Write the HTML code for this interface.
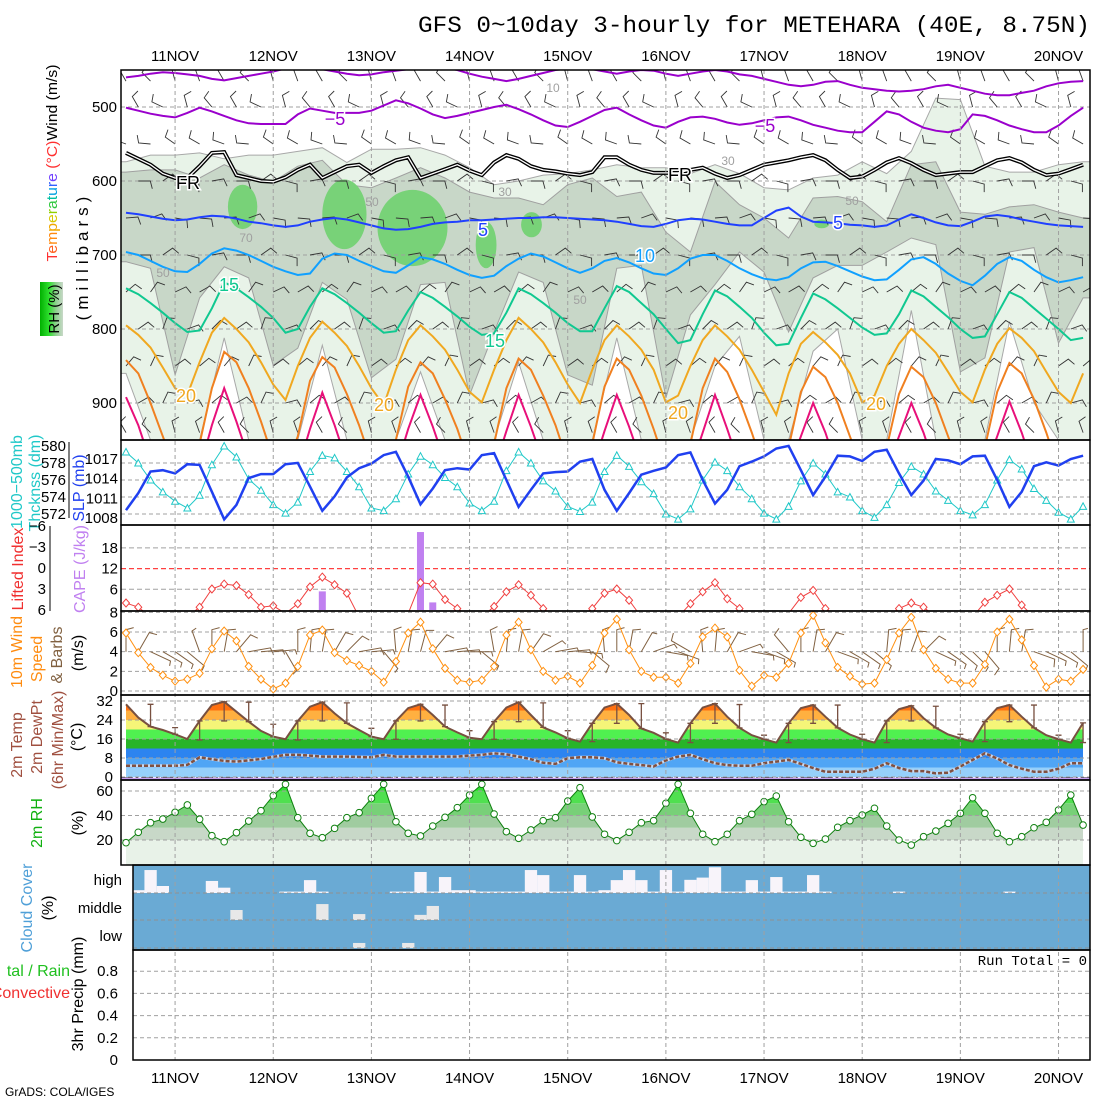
<!DOCTYPE html>
<html><head><meta charset="utf-8">
<style>
body{margin:0;background:#fff;width:1100px;height:1100px;overflow:hidden}
svg{display:block;font-family:"Liberation Sans",sans-serif}
.tk{font-size:15px;fill:#000}
</style></head>
<body>
<svg id="chart" width="1100" height="1100" viewBox="0 0 1100 1100">
<defs>
<clipPath id="c1"><rect x="121" y="70" width="969" height="370"/></clipPath>
<clipPath id="c2"><rect x="121" y="440" width="969" height="85"/></clipPath>
<clipPath id="c3"><rect x="121" y="525" width="969" height="86"/></clipPath>
<clipPath id="c4"><rect x="121" y="611" width="969" height="84"/></clipPath>
<clipPath id="c5"><rect x="121" y="695" width="969" height="85"/></clipPath>
<clipPath id="c6"><rect x="121" y="780" width="969" height="85"/></clipPath>
<clipPath id="c7"><rect x="133" y="865" width="957" height="85"/></clipPath>
<linearGradient id="rhg" x1="0" x2="1" y1="0" y2="0"><stop offset="0" stop-color="#00b000"/><stop offset="0.4" stop-color="#30e030"/><stop offset="0.7" stop-color="#90d090"/><stop offset="1" stop-color="#c8d8c8"/></linearGradient>
</defs>
<rect x="0" y="0" width="1100" height="1100" fill="#fff"/>
<text x="418" y="32" font-family="Liberation Mono, monospace" font-size="23" textLength="672" lengthAdjust="spacingAndGlyphs">GFS 0~10day 3-hourly for METEHARA (40E, 8.75N)</text>

<g id="leftlabels" font-size="15">
<text transform="translate(57,163) rotate(-90)" text-anchor="middle" textLength="197" lengthAdjust="spacingAndGlyphs"><tspan fill="#ff3030">T</tspan><tspan fill="#ff6020">e</tspan><tspan fill="#ff8a10">m</tspan><tspan fill="#f0a800">p</tspan><tspan fill="#d8c800">e</tspan><tspan fill="#90d000">r</tspan><tspan fill="#30c840">a</tspan><tspan fill="#00c0a0">t</tspan><tspan fill="#00a0e0">u</tspan><tspan fill="#3060ff">r</tspan><tspan fill="#7040ff">e</tspan><tspan fill="#ff3030"> (°C)</tspan><tspan fill="#000">Wind (m/s)</tspan></text>
<rect x="40" y="282" width="23" height="54" fill="url(#rhg)"/>
<text transform="translate(59,309) rotate(-90)" text-anchor="middle">RH (%)</text>
<text transform="translate(88,256) rotate(-90)" text-anchor="middle" font-size="17" letter-spacing="5">(millibars)</text>
<text transform="translate(22,482) rotate(-90)" text-anchor="middle" fill="#20c8c8" font-size="16">1000−500mb</text>
<text transform="translate(40,483) rotate(-90)" text-anchor="middle" fill="#20c8c8" font-size="16">Thcknss (dm)</text>
<text transform="translate(84,488) rotate(-90)" text-anchor="middle" fill="#2040f0" font-size="16">SLP (mb)</text>
<text transform="translate(23,569) rotate(-90)" text-anchor="middle" fill="#f03030" font-size="16">Lifted Index</text>
<text transform="translate(85,569) rotate(-90)" text-anchor="middle" fill="#c080f0" font-size="16">CAPE (J/kg)</text>
<text transform="translate(22,652) rotate(-90)" text-anchor="middle" fill="#ff8c10" font-size="16">10m Wind</text>
<text transform="translate(42,659) rotate(-90)" text-anchor="middle" fill="#ff8c10" font-size="16">Speed</text>
<text transform="translate(62,655) rotate(-90)" text-anchor="middle" fill="#806040" font-size="16">&amp; Barbs</text>
<text transform="translate(83,653) rotate(-90)" text-anchor="middle" font-size="16">(m/s)</text>
<text transform="translate(22,745) rotate(-90)" text-anchor="middle" fill="#a05040" font-size="16">2m Temp</text>
<text transform="translate(42,737) rotate(-90)" text-anchor="middle" fill="#a05040" font-size="16">2m DewPt</text>
<text transform="translate(63,740) rotate(-90)" text-anchor="middle" fill="#a05040" font-size="16">(6hr Min/Max)</text>
<text transform="translate(82,737) rotate(-90)" text-anchor="middle" font-size="16">(°C)</text>
<text transform="translate(42,823) rotate(-90)" text-anchor="middle" fill="#10b010" font-size="16">2m RH</text>
<text transform="translate(83,823) rotate(-90)" text-anchor="middle" font-size="16">(%)</text>
<text transform="translate(32,908) rotate(-90)" text-anchor="middle" fill="#50a0d8" font-size="16">Cloud Cover</text>
<text transform="translate(53,908) rotate(-90)" text-anchor="middle" font-size="16">(%)</text>
<text transform="translate(83,994) rotate(-90)" text-anchor="middle" font-size="16">3hr Precip (mm)</text>
<text x="70" y="976" text-anchor="end" fill="#20c020" font-size="16">tal / Rain</text>
<text x="70" y="998" text-anchor="end" fill="#f03030" font-size="16">Convective</text>
<text x="1087" y="965" text-anchor="end" font-family="Liberation Mono, monospace" font-size="14">Run Total = 0</text>
<text x="5" y="1096" font-size="12">GrADS: COLA/IGES</text>
</g>
<g id="plots"></g>
</svg>
<script>
// ---------- data (3-hourly from 10NOV 12Z, 79 steps) ----------
const days = ['11NOV','12NOV','13NOV','14NOV','15NOV','16NOV','17NOV','18NOV','19NOV','20NOV'];
const thickness = [579.3,578.0,576.0,574.6,573.5,572.7,574.2,577.8,580.0,578.7,
576.1,574.8,573.1,572.1,573.4,577.0,578.9,578.6,577.0,575.2,
572.7,572.4,573.8,576.7,578.8,577.8,576.3,575.2,573.3,572.4,
573.5,577.1,579.3,578.0,575.9,574.7,572.9,572.3,573.4,577.0,
578.9,577.6,575.8,574.4,572.0,571.4,572.6,576.0,578.1,577.1,
575.2,573.8,572.1,571.4,572.9,575.9,578.0,576.7,574.6,574.0,
572.4,571.6,573.1,575.7,577.6,576.7,574.7,573.6,572.4,571.9,
573.1,576.0,578.4,577.3,575.0,573.6,572.2,571.4,572.9];
const slp = [1009.2,1011.8,1015.1,1015.3,1014.8,1016.2,1016.1,1012.0,1007.8,1010.0,
1014.1,1014.7,1014.7,1016.2,1016.4,1012.8,1009.1,1011.3,1014.2,1015.6,
1016.3,1017.6,1018.1,1014.3,1010.1,1012.5,1015.3,1015.6,1015.4,1017.6,
1017.9,1013.8,1009.7,1012.3,1014.8,1015.0,1015.1,1016.6,1017.0,1012.3,
1009.1,1011.8,1014.6,1015.2,1015.7,1017.6,1018.0,1013.8,1010.2,1012.3,
1015.9,1016.6,1017.4,1018.6,1019.0,1015.3,1011.5,1014.3,1017.5,1017.4,
1016.7,1018.1,1018.4,1014.8,1011.5,1013.7,1017.0,1016.8,1016.2,1017.4,
1017.5,1013.8,1009.7,1012.0,1015.9,1016.5,1016.0,1017.0,1017.5];
const liftedIndex = [5.0,5.6,7,7,7,7,5.6,3.0,2.3,2.5,
3.8,5.6,5.4,6.5,5.1,2.7,1.3,2.4,3.6,7,
7,7,7,6.5,2.1,2.3,4.5,5.8,7,7,
5.5,3.4,2.4,3.9,5.8,7,7,7,5.8,3.6,
3.0,4.6,7,7,7,7,5.1,3.4,2.1,4.4,
5.8,7,7,7,6.5,4.2,3.2,5.8,7,7,
7,7,7,5.8,5.0,5.6,7,7,7,7,
4.9,3.9,3.0,5.3,7,7,7,7,7];
const cape = [0,0,0,0,0,0,0,0,0,0, 0,0,0,0,0,0,5.4,0,0,0, 0,0,0,0,22.6,2.2,0,0,0,0,
0,0,0,0,0,0,0,0,0,0, 0,0,0,0,0,0,0,0,0,0, 0,0,0,0,0,0,0,0,0,0, 0,0,0,0,0,0,0,0,0,0, 0,0,0,0,0,0,0,0,0];
const windSpeed = [5.9,3.9,2.4,1.6,1.0,1.2,1.8,4.3,6.1,5.1,
2.5,1.2,0.2,0.8,2.5,5.7,6.2,3.9,3.1,2.6,
2.0,0.9,3.0,5.9,7.0,4.3,2.3,1.1,0.9,1.1,
2.5,5.7,7.0,4.2,2.0,1.1,1.5,0.8,2.6,5.9,
7.3,4.2,2.0,1.4,1.4,0.8,2.8,5.5,6.4,5.5,
2.1,0.5,1.6,1.4,2.8,5.9,7.7,4.9,2.4,1.5,
0.7,0.8,3.2,5.9,7.5,4.2,2.3,1.2,0.8,0.8,
2.7,6.0,7.3,5.2,2.6,0.4,1.2,1.0,2.2];
const windDir = [0,30,115,120,125,130,340,0,10,40,
80,85,85,150,0,5,10,30,45,80,
85,140,355,10,15,40,80,85,90,130,
350,5,10,35,60,80,85,95,130,355,
0,10,30,70,100,110,300,355,5,30,
70,100,110,120,320,0,10,30,110,120,
125,130,5,10,20,45,115,125,130,135,
140,0,5,10,110,115,120,130,0];
const temp2m = [30.6,25.0,21.2,19.8,18.0,16.0,23.6,30.3,31.7,27.5,
23.3,19.4,17.0,15.9,23.6,29.6,31.5,26.8,22.6,19.8,
17.0,15.9,23.6,29.0,30.6,26.1,21.2,18.8,16.5,15.9,
23.3,29.2,31.5,26.1,20.9,18.8,16.3,14.9,22.6,29.2,
30.9,26.1,20.4,18.6,16.0,14.5,22.6,29.2,30.9,25.4,
20.7,17.6,15.9,14.5,22.6,29.0,30.3,25.4,20.7,17.9,
15.9,14.5,23.6,28.6,30.0,24.8,20.7,17.9,16.3,14.9,
23.3,29.0,30.3,25.4,20.7,17.6,15.9,14.5,22.8];
const dewpt2m = [4.7,4.7,4.7,4.7,4.7,5.1,8.3,7.5,6.8,6.5,
7.0,7.6,8.5,9.3,9.3,9.0,8.6,8.6,8.6,8.4,
8.3,9.3,8.6,8.6,8.6,8.6,8.6,8.6,9.0,9.3,
10.0,9.5,8.6,7.5,6.0,5.5,7.9,8.3,8.3,7.9,
6.2,5.5,5.0,4.4,7.0,8.6,9.3,7.5,5.8,5.0,
4.7,4.7,5.8,6.5,7.2,5.5,3.8,2.2,2.2,2.2,
2.2,3.5,5.8,3.8,2.5,2.5,1.5,1.8,4.4,7.2,
10.0,7.8,5.0,3.5,2.2,2.2,3.5,5.8,5.8];
const tMax6 = [null,30.6,20.8,23.6,31.7,31.5,22.2,23.6,31.5,31.2,20.5,23.6,30.6,30.3,19.5,23.3,31.5,31.2,19.5,22.6,
30.9,30.9,18.6,22.6,30.9,30.5,17.6,22.6,30.3,30.3,18.0,23.6,30.0,29.8,18.0,23.3,30.3,30.3,17.6,22.8];
const tMin6 = [null,21.2,18.0,15.6,23.6,23.3,16.9,15.6,23.6,22.6,17.0,15.9,23.6,21.2,16.5,15.9,23.3,20.9,16.3,14.9,
22.6,20.4,16.0,14.5,22.6,20.7,15.9,14.5,22.6,20.7,15.9,14.5,23.6,20.7,16.3,14.9,23.3,20.7,15.9,14.5];
const rh2m = [17.8,26.3,34.1,37.1,42.6,48.6,36.9,23.5,18.6,26.0,
35.5,43.9,56.2,65.5,38.2,25.5,21.9,29.5,38.2,42.3,
54.0,65.5,34.9,25.5,23.3,31.4,38.5,46.4,56.7,65.5,
41.2,26.8,21.4,28.2,35.8,38.2,51.8,62.7,38.8,24.7,
19.5,26.3,34.1,35.8,50.0,65.5,41.8,24.7,18.6,24.7,
35.8,41.0,51.3,55.9,34.9,22.2,17.3,20.8,30.4,35.8,
40.4,45.9,31.4,20.0,15.9,22.7,27.3,33.6,41.8,54.5,
41.8,25.5,18.6,22.7,30.0,34.4,44.5,56.7,32.2];
const cloudHigh = [0,10,82,25,0,0,0,43,19,0, 0,0,0,5,5,46,5,0,0,0, 0,0,5,5,75,5,57,10,10,5,
5,5,5,82,64,5,5,64,5,10, 46,82,46,5,82,5,47,55,92,5, 5,46,5,57,5,5,64,5,0,0,
0,0,0,5,0,0,0,0,0,0, 0,0,5,0,0,0,0,0,0];
const cloudMid = [0,0,0,0,0,0,0,0,0,37, 0,0,0,0,0,0,59,0,0,22, 0,0,0,0,19,52,0,0,0,0,
0,0,0,0,0,0,0,0,0,0, 0,0,0,0,0,0,0,0,0,0, 0,0,0,0,0,0,0,0,0,0, 0,0,0,0,0,0,0,0,0,0, 0,0,0,0,0,0,0,0,0];
const cloudLow = [0,0,0,0,0,0,0,0,0,0, 0,0,0,0,0,0,0,0,0,18, 0,0,0,18,0,0,0,0,0,0,
0,0,0,0,0,0,0,0,0,0, 0,0,0,0,0,0,0,0,0,0, 0,0,0,0,0,0,0,0,0,0, 0,0,0,0,0,0,0,0,0,0, 0,0,0,0,0,0,0,0,0];
const isoM10 = [460,458,455,453,454,456,458,462,464,461, 458,455,452,448,446,447,449,452,455,457,
456,453,451,449,448,446,447,450,455,459, 462,465,462,458,454,450,448,447,449,452,
455,452,450,451,455,458,455,452,450,452, 456,458,462,466,470,472,470,466,465,470,
474,476,478,479,478,476,472,470,474,478, 482,484,484,481,478,472,468,466,465];
const isoM5 = [501,505,509,512,514,508,501,506,512,518, 522,523,523,523,510,502,505,508,508,508,
505,498,491,495,502,510,515,512,508,504, 500,497,503,510,518,525,527,520,512,504,
501,510,518,525,528,520,514,513,516,521, 524,522,518,514,513,518,524,528,532,534,
534,520,506,510,520,528,532,534,530,510, 512,518,525,530,534,534,525,512,501];
const iso0 = [562,570,578,590,596,596,580,562,561,592, 596,600,601,595,585,578,596,588,580,578,
589,580,572,568,596,590,584,578,586,592, 575,565,570,580,585,587,590,592,588,568,
568,578,585,589,589,589,585,582,590,596, 592,585,578,575,572,568,565,572,585,596,
594,585,575,569,576,585,592,590,588,588, 580,572,569,575,585,592,590,584,578];
const iso5 = [643,645,648,651,653,652,649,647,648,651, 655,657,660,662,660,655,652,650,652,656,
660,664,666,665,662,658,656,655,653,653, 652,651,650,650,649,649,650,651,652,653,
655,658,661,662,658,653,651,652,655,658, 660,660,650,640,636,648,655,656,657,659,
660,662,660,652,645,650,656,660,661,655, 648,646,648,652,655,658,660,661,662];
const iso10 = [696,700,708,716,722,723,712,698,691,694, 700,708,716,722,727,725,705,698,700,708,
715,722,724,714,703,706,712,720,727,731, 728,715,705,698,702,710,718,724,718,708,
704,710,718,725,727,718,705,700,700,708, 718,726,732,734,730,718,710,709,715,722,
729,734,733,720,706,703,712,725,735,741, 728,712,703,708,720,730,737,734,730];
const iso15 = [745,753,765,778,792,804,802,772, 737,745,757,770,785,805,800,770,
745,753,765,778,792,805,803,775, 750,758,770,783,797,808,806,778,
745,753,765,778,792,803,803,772, 742,750,765,780,800,819,815,780,
748,756,770,785,805,822,820,785, 752,760,772,785,798,808,806,780,
748,756,770,784,800,812,810,780, 750,758,772,786,800,815,812];
const iso20 = [795,808,825,852,880,889,845,805, 785,800,818,845,875,896,850,812,
790,805,823,850,880,903,855,815, 795,810,828,855,885,899,855,815,
785,800,818,845,875,900,855,815, 795,810,828,855,899,890,850,815,
795,810,828,855,885,916,860,820, 804,818,835,860,899,890,850,820,
800,815,832,858,885,899,855,820, 799,812,830,858,885,900,860];
const iso25 = [842,860,900,945,990,990,955,880, 831,845,880,925,975,990,945,870,
838,852,888,930,980,990,950,878, 845,860,895,935,985,990,955,880,
840,855,890,930,980,990,955,878, 840,855,890,935,985,990,955,880,
840,858,895,940,990,990,960,885, 851,865,900,945,990,990,960,888,
851,865,900,945,990,990,960,885, 846,860,895,940,990,990,960];
const iso30 = [892,930,980,990,990,990,990,930, 880,925,975,990,990,990,990,935,
886,930,980,990,990,990,990,935, 889,932,980,990,990,990,990,938,
889,932,980,990,990,990,990,938, 889,932,980,990,990,990,990,940,
889,935,985,990,990,990,990,945, 900,940,990,990,990,990,990,945,
900,940,990,990,990,990,990,945, 898,940,990,990,990,990,990];
const rhMoistTop = [574,565,565,562,570,565,565,560,555,575,557,557,555,565,582,605,600,592,590,585,
578,582,582,590,578,590,609,612,596,592,574,590,560,488,490,580,588,588,578,574];
const rhMoistBot = [860,950,950,950,812,950,950,950,822,950,950,950,858,950,950,950,845,950,950,950,
812,950,950,950,850,810,950,950,830,800,950,950,775,950,950,950,790,900,950,950];
const rhWetTop = [588,585,585,596,578,592,601,580,572,605,609,596,582,596,615,623,623,632,605,596,
621,615,669,696,601,632,650,677,623,621,628,655,578,574,642,645,635,632,642,650];
const rhWetBot = [709,718,862,758,716,731,849,826,737,760,866,841,740,737,889,804,723,737,862,876,
718,714,893,781,740,696,723,804,731,714,714,696,677,686,858,839,696,690,819,758];
const satStart = [8.3,16.0,20.5,28.5,32.2,56.1];
const satEnd = [10.7,19.6,26.2,30.2,33.9,57.3];
const satTop = [605,598,612,655,642,652];
const satBot = [665,692,715,718,676,664];
const barbLevels = [465,500,550,600,650,700,750,800,850,900,940];
const barbLevelDir = [330,320,290,80,85,80,50,45,40,50,330];
const barbPhaseOff = [0,10,-15,-25,15,25,10,0];
const pTicks = [500,600,700,800,900];
const thkTicks = [572,574,576,578,580];
const slpTicks = [1008,1011,1014,1017];
const liTicks = [-6,-3,0,3,6];
const capeTicks = [6,12,18];
const wsTicks = [0,2,4,6,8];
const tTicks = [0,8,16,24,32];
const rhTicks = [20,40,60];
const prTicks = [0,0.2,0.4,0.6,0.8];

// ---------- drawing ----------
const NS='http://www.w3.org/2000/svg';
const root=document.getElementById('plots');
function mk(tag,attrs,parent){const e=document.createElementNS(NS,tag);for(const k in attrs)e.setAttribute(k,attrs[k]);(parent||root).appendChild(e);return e;}
const X=i=>126+i*12.27;
const yP=p=>70+(p-450)*0.74;
const yThk=v=>446+(580-v)*8.5;
const ySlp=v=>459+(1017-v)*6.56;
const yLI=v=>568+v*7;
const yCape=v=>610-v*3.45;
const yWs=v=>691-v*9.83;
const yT=v=>777-v*2.375;
const yRH=v=>864.5-v*1.225;
const yPr=v=>1060-v*111;
const pts=(arr,fy,step)=>arr.map((v,k)=>X(k*(step||1)).toFixed(1)+','+fy(v).toFixed(1)).join(' ');
const GRID='#a0a0a0';

function barb(g,x,y,dir,len,col,full,w){
  const r=dir*Math.PI/180, dx=Math.sin(r)*len, dy=-Math.cos(r)*len;
  const ex=x+dx, ey=y+dy;
  const t=(dir+75)*Math.PI/180, tl=full?8:5;
  return mk('path',{d:`M${x.toFixed(1)},${y.toFixed(1)}L${ex.toFixed(1)},${ey.toFixed(1)}L${(ex+Math.sin(t)*tl).toFixed(1)},${(ey-Math.cos(t)*tl).toFixed(1)}`,fill:'none',stroke:col,'stroke-width':w||1},g);
}

// ===== Panel 1 =====
const g1=mk('g',{'clip-path':'url(#c1)'});


function regionPoly(top,bot){
  const n=top.length; let a=[];
  a.push('121,'+yP(top[0]).toFixed(1));
  for(let j=0;j<n;j++)a.push(X(2*j).toFixed(1)+','+yP(top[j]).toFixed(1));
  a.push('1090,'+yP(top[n-1]).toFixed(1));
  a.push('1090,'+yP(bot[n-1]).toFixed(1));
  for(let j=n-1;j>=0;j--)a.push(X(2*j).toFixed(1)+','+yP(bot[j]).toFixed(1));
  a.push('121,'+yP(bot[0]).toFixed(1));
  return a.join(' ');
}
const moist=mk('polygon',{points:regionPoly(rhMoistTop,rhMoistBot),fill:'#e8f3e8',stroke:'#a8a8a8','stroke-width':1},g1);


const wet=mk('polygon',{points:regionPoly(rhWetTop,rhWetBot),fill:'#c8d7c8',stroke:'#a0a0a0','stroke-width':1},g1);


for(let k=0;k<satStart.length;k++){
  const x0=X(satStart[k]),x1=X(satEnd[k]),y0=yP(satTop[k]),y1=yP(satBot[k]);
  const e=mk('ellipse',{cx:((x0+x1)/2).toFixed(1),cy:((y0+y1)/2).toFixed(1),rx:((x1-x0)/2).toFixed(1),ry:((y1-y0)/2).toFixed(1),fill:'#78d278'},g1);
  
  
}
for(const p of pTicks){
  const l=mk('line',{x1:121,x2:1090,y1:yP(p),y2:yP(p),stroke:GRID,'stroke-dasharray':'4,3'},g1);
  
  
}
const gb=mk('g',{},g1);


for(let i=0;i<79;i++){
  for(let L=0;L<barbLevels.length;L++){
    if((i+L)%2)continue;
    const b=barb(gb,X(i),yP(barbLevels[L]),barbLevelDir[L]+barbPhaseOff[i%8],12,'#333',true,0.9);
    
    
  }
}
const isoDefs=[[isoM10,'#9a00cc',2,'isotherm-minus10'],[isoM5,'#9a00cc',2,'isotherm-minus5'],[iso5,'#2040ff',2,'isotherm-5'],[iso10,'#10a0ff',2,'isotherm-10'],[iso15,'#10c890',2,'isotherm-15'],[iso20,'#f0a820',2,'isotherm-20'],[iso25,'#f08020',2,'isotherm-25'],[iso30,'#e8107a',2,'isotherm-30']];
for(const d of isoDefs){
  const l=mk('polyline',{points:pts(d[0],yP),fill:'none',stroke:d[1],'stroke-width':d[2]},g1);
  
  
}
const fr1=mk('polyline',{points:pts(iso0,yP),fill:'none',stroke:'#000','stroke-width':4},g1);


const fr2=mk('polyline',{points:pts(iso0,yP),fill:'none',stroke:'#fff','stroke-width':1.3},g1);


const isoLabels=[['−5',335,125,'#9a00cc'],['−5',765,132,'#9a00cc'],['FR',188,189,'#000'],['FR',680,181,'#000'],['5',483,236,'#2040ff'],['5',838,229,'#2040ff'],['10',645,262,'#10a0ff'],['15',229,291,'#10c890'],['15',495,347,'#10c890'],['20',186,402,'#f0a820'],['20',384,411,'#f0a820'],['20',678,419,'#f0a820'],['20',876,410,'#f0a820'],
['10',553,92,'#a0a0a0'],['30',505,196,'#a0a0a0'],['50',163,277,'#a0a0a0'],['50',372,206,'#a0a0a0'],['70',246,242,'#a0a0a0'],['30',728,165,'#a0a0a0'],['50',852,205,'#a0a0a0'],['50',580,304,'#a0a0a0']];
for(const t of isoLabels){
  const gray=t[3]==='#a0a0a0';
  const e=mk('text',{x:t[1],y:t[2],fill:t[3],'font-size':gray?12:18,'text-anchor':'middle',stroke:gray?'none':'#fff','stroke-width':gray?0:3,'paint-order':'stroke'},g1);
  e.textContent=t[0];
  
  
}

// ===== Panel 2 =====
const g2=mk('g',{'clip-path':'url(#c2)'});


for(const v of thkTicks){
  if(v===580)continue;
  const l=mk('line',{x1:121,x2:1090,y1:yThk(v),y2:yThk(v),stroke:GRID,'stroke-dasharray':'4,3'},g2);
  
  
}
const thl=mk('polyline',{points:pts(thickness,yThk),fill:'none',stroke:'#20c8c8','stroke-width':1},g2);


thickness.forEach((v,i)=>{
  const x=X(i),y=yThk(v);
  const m=mk('path',{d:`M${x-3.5},${y+3}L${x+3.5},${y+3}L${x},${y-3.5}Z`,fill:'#fff',stroke:'#20c8c8','stroke-width':1},g2);
  
  
});
const sl=mk('polyline',{points:pts(slp,ySlp),fill:'none',stroke:'#2040f0','stroke-width':2.5},g2);



// ===== Panel 3 =====
const g3=mk('g',{'clip-path':'url(#c3)'});


for(const v of capeTicks){
  const l=mk('line',{x1:121,x2:1090,y1:yCape(v),y2:yCape(v),stroke:v===12?'#ff4040':GRID,'stroke-dasharray':'5,3','stroke-width':v===12?1.3:1},g3);
  
  
}
cape.forEach((v,i)=>{
  if(v<=0)return;
  const r=mk('rect',{x:X(i)-3.5,y:yCape(v),width:7,height:610-yCape(v),fill:'#c080f0'},g3);
  
  
});
const lil=mk('polyline',{points:pts(liftedIndex,yLI),fill:'none',stroke:'#f04040','stroke-width':1},g3);


liftedIndex.forEach((v,i)=>{
  if(v>6.2)return;
  const x=X(i),y=yLI(v);
  const m=mk('path',{d:`M${x},${y-4}L${x+3.5},${y}L${x},${y+4}L${x-3.5},${y}Z`,fill:'#fff',stroke:'#f04040','stroke-width':1},g3);
  
  
});

// ===== Panel 4 =====
const g4=mk('g',{'clip-path':'url(#c4)'});


for(const v of wsTicks){
  const l=mk('line',{x1:121,x2:1090,y1:yWs(v),y2:yWs(v),stroke:GRID,'stroke-dasharray':'4,3'},g4);
  
  
}
windDir.forEach((d,i)=>{
  const b=barb(g4,X(i),yWs(4),d,22,'#806040',windSpeed[i]>=2.5);
  
  
});
const wsl=mk('polyline',{points:pts(windSpeed,yWs),fill:'none',stroke:'#ff9010','stroke-width':1},g4);


windSpeed.forEach((v,i)=>{
  const x=X(i),y=yWs(v);
  const m=mk('path',{d:`M${x},${y-4}L${x+3.5},${y}L${x},${y+4}L${x-3.5},${y}Z`,fill:'#fff',stroke:'#ff9010','stroke-width':1},g4);
  
  
});

// ===== Panel 5 =====
const g5=mk('g',{'clip-path':'url(#c5)'});


const defs=document.querySelector('defs');
const cpT=mk('clipPath',{id:'tempArea'},defs);
mk('polygon',{points:pts(temp2m,yT)+' '+X(78)+','+yT(0)+' '+X(0)+','+yT(0)},cpT);
const bandLo=[0,4,8,12,16,20,24,28,32];
const bandCol=['#96d0fa','#50a5f5','#2c84f0','#28b428','#50f050','#f5f578','#ffb040','#ff7010','#e04000'];
const gBands=mk('g',{'clip-path':'url(#tempArea)'},g5);


bandLo.forEach((lo,k)=>{
  const r=mk('rect',{x:X(0),y:yT(lo+4),width:X(78)-X(0),height:yT(lo)-yT(lo+4),fill:bandCol[k]},gBands);
  
  
});
for(const v of tTicks){
  const l=mk('line',{x1:121,x2:1090,y1:yT(v),y2:yT(v),stroke:GRID,'stroke-dasharray':'4,3'},g5);
  
  
}
const zl=mk('line',{x1:121,x2:1090,y1:yT(0)+1,y2:yT(0)+1,stroke:'#000','stroke-dasharray':'12,3,2,3','stroke-width':1.2},g5);


const pl=mk('line',{x1:121,x2:1090,y1:779,y2:779,stroke:'#c8a0f0','stroke-width':2.5},g5);


const dw1=mk('polyline',{points:pts(dewpt2m,yT),fill:'none',stroke:'#c8d8f0','stroke-width':3},g5);


const dw2=mk('polyline',{points:pts(dewpt2m,yT),fill:'none',stroke:'#805040','stroke-width':2.5,'stroke-dasharray':'4,2'},g5);


const tl=mk('polyline',{points:pts(temp2m,yT),fill:'none',stroke:'#785040','stroke-width':2},g5);


tMax6.forEach((mx,j)=>{
  if(mx===null)return;
  const x=X(2*j),y0=yT(mx),y1=yT(tMin6[j]);
  const e=mk('path',{d:`M${x},${y0}L${x},${y1}M${x-3},${y0}L${x+3},${y0}M${x-3},${y1}L${x+3},${y1}`,stroke:'#785040','stroke-width':1.3,fill:'none'},g5);
  
  
});

// ===== Panel 6 =====
const g6=mk('g',{'clip-path':'url(#c6)'});


const cpR=mk('clipPath',{id:'rhArea'},defs);
mk('polygon',{points:pts(rh2m,yRH)+' '+X(78)+',865 '+X(0)+',865'},cpR);
const rhLo=[0,20,30,40,50,60];
const rhHi=[20,30,40,50,60,100];
const rhCol=['#e8f2e8','#c8d8c8','#a0cca0','#78d078','#50e050','#30e030'];
const gRb=mk('g',{'clip-path':'url(#rhArea)'},g6);


rhLo.forEach((lo,k)=>{
  const r=mk('rect',{x:X(0),y:yRH(Math.min(rhHi[k],75)),width:X(78)-X(0),height:yRH(lo)-yRH(Math.min(rhHi[k],75)),fill:rhCol[k]},gRb);
  
  
});
for(const v of rhTicks){
  const l=mk('line',{x1:121,x2:1090,y1:yRH(v),y2:yRH(v),stroke:GRID,'stroke-dasharray':'4,3'},g6);
  
  
}
const rl=mk('polyline',{points:pts(rh2m,yRH),fill:'none',stroke:'#108010','stroke-width':1},g6);


rh2m.forEach((v,i)=>{
  const c=mk('circle',{cx:X(i),cy:yRH(v),r:3.3,fill:'#fff',stroke:'#108010','stroke-width':1},g6);
  
  
});

// ===== Panel 7 =====
const g7=mk('g',{'clip-path':'url(#c7)'});


const cbg=mk('rect',{x:133,y:865,width:957,height:85,fill:'#6aaad4'},g7);


const layers=[[cloudHigh,893,28,'#f8f4fa','cloud-high-bar'],[cloudMid,920,27,'#e8e8e8','cloud-middle-bar'],[cloudLow,948,28,'#e8e8e8','cloud-low-bar']];
for(const L of layers){
  L[0].forEach((v,i)=>{
    if(v<=0)return;
    const h=v/100*L[2];
    const r=mk('rect',{x:X(i)-6.1,y:L[1]-h,width:12.3,height:h,fill:L[3]},g7);
    
    
  });
}
for(const y of [893,920,948]){
  const l=mk('line',{x1:133,x2:1090,y1:y,y2:y,stroke:'#909090','stroke-dasharray':'4,3'},g7);
  
  
}

// ===== Panel 8 =====
for(const v of prTicks){
  if(v===0)continue;
  const l=mk('line',{x1:133,x2:1090,y1:yPr(v),y2:yPr(v),stroke:GRID,'stroke-dasharray':'4,3'});
  
  
}

// ===== day gridlines =====
days.forEach((d,k)=>{
  const x=X(4+8*k);
  const l=mk('line',{x1:x,x2:x,y1:70,y2:1060,stroke:GRID,'stroke-dasharray':'4,3'});
  
  
  const t1=mk('text',{x:x,y:61,'text-anchor':'middle','font-size':15});
  t1.textContent=d;
  
  
  const t2=mk('text',{x:x,y:1083,'text-anchor':'middle','font-size':15});
  t2.textContent=d;
  
  
});

// ===== frames =====
const frames=[[121,70,969,370,'upper-air-frame'],[121,440,969,85,'thickness-frame'],[121,525,969,86,'cape-frame'],[121,611,969,84,'wind-frame'],[121,695,969,85,'temperature-frame'],[121,780,969,85,'rh-frame'],[133,865,957,85,'cloud-frame'],[133,950,957,110,'precip-frame']];
for(const f of frames){
  const r=mk('rect',{x:f[0],y:f[1],width:f[2],height:f[3],fill:'none',stroke:'#000','stroke-width':1.5});
  
  
}

// ===== tick labels =====
function tick(txt,x,y,name,anchor){
  const t=mk('text',{x:x,y:y+5,'text-anchor':anchor||'end',class:'tk'});
  t.textContent=txt;
  
  
}
pTicks.forEach(p=>tick(String(p),117,yP(p),'pressure-tick-label'));
thkTicks.forEach(v=>tick(String(v),66,yThk(v),'thickness-tick-label'));
slpTicks.forEach(v=>tick(String(v),118,ySlp(v),'slp-tick-label'));
liTicks.forEach(v=>tick(v<0?'−'+(-v):String(v),46,yLI(v),'lifted-index-tick-label'));
capeTicks.forEach(v=>tick(String(v),118,yCape(v),'cape-tick-label'));
wsTicks.forEach(v=>tick(String(v),118,yWs(v),'wind-tick-label'));
tTicks.forEach(v=>tick(String(v),113,yT(v),'temperature-tick-label'));
rhTicks.forEach(v=>tick(String(v),113,yRH(v),'rh-tick-label'));
prTicks.forEach(v=>tick(String(v),118,yPr(v),'precip-tick-label'));
tick('high',122,880,'cloud-high-label');
tick('middle',122,908,'cloud-middle-label');
tick('low',122,936,'cloud-low-label');
const ax1=mk('line',{x1:69,x2:69,y1:442,y2:518,stroke:'#000'});


const ax2=mk('line',{x1:50,x2:50,y1:526,y2:611,stroke:'#000'});


</script>
</body></html>
